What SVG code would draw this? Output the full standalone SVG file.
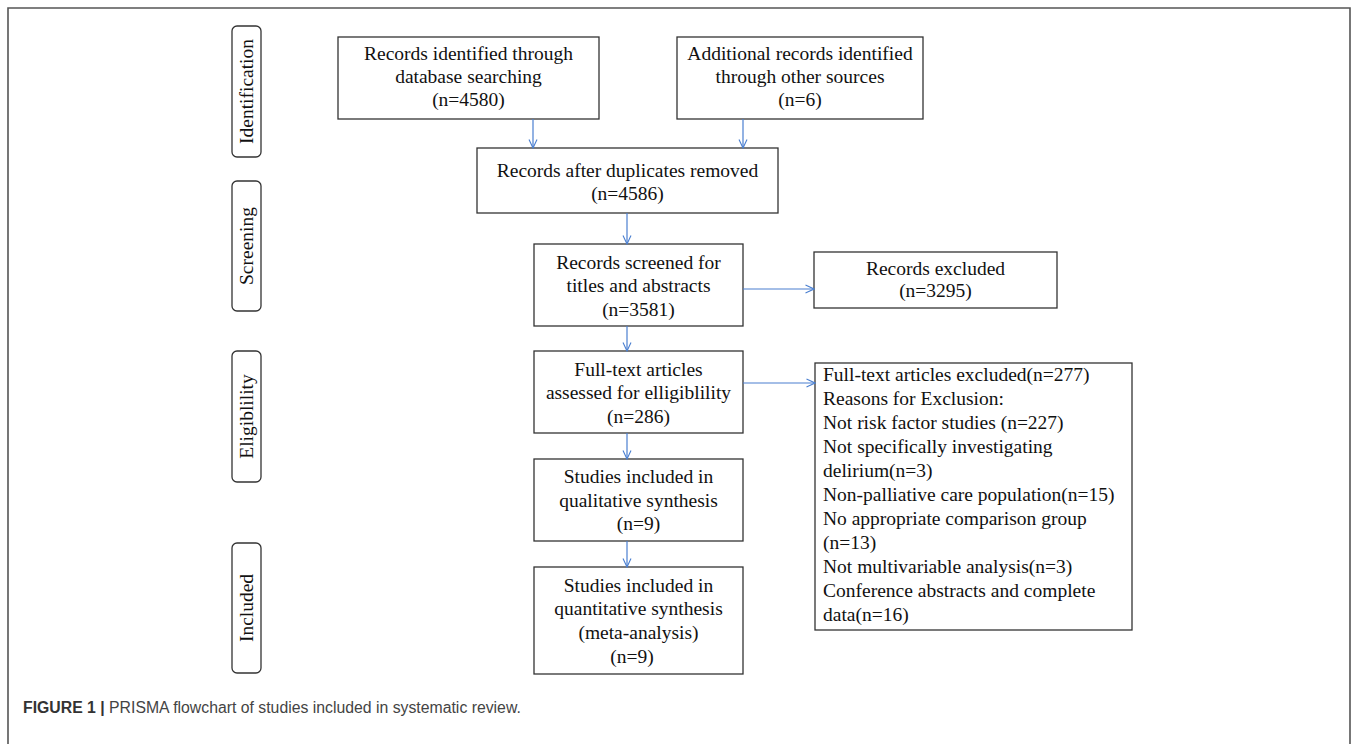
<svg xmlns="http://www.w3.org/2000/svg" width="1357" height="744" viewBox="0 0 1357 744">
<defs>
<style>
.frame{fill:none;stroke:#555;stroke-width:1.6}
.box{fill:#fff;stroke:#333;stroke-width:1.3}
.lbl{fill:#fff;stroke:#333;stroke-width:1.3}
.t{font-family:"Liberation Serif","Times New Roman",serif;font-size:19.5px;fill:#111}
.c{text-anchor:middle}
.conn line{stroke:#4a7fd0;stroke-width:1.2;fill:none}
.cap{font-family:"Liberation Sans",Arial,sans-serif;font-size:15.8px;fill:#444}
</style>
<marker id="ah" viewBox="0 0 10 10" refX="9.5" refY="5" markerWidth="10" markerHeight="10" markerUnits="userSpaceOnUse" orient="auto">
<path d="M1,1 L9.5,5 L1,9" fill="none" stroke="#4a7fd0" stroke-width="1.1"/>
</marker>
</defs>
<rect width="1357" height="744" fill="#fff"/>
<path class="frame" d="M8,744 L8,8 L1350,8 L1350,744"/>

<g id="lbl-identification">
<rect class="lbl" x="232" y="26" width="29" height="131" rx="5"/>
<text class="t c" transform="translate(253,91.5) rotate(-90)">Identification</text>
</g>
<g id="lbl-screening">
<rect class="lbl" x="232" y="181" width="29" height="130" rx="5"/>
<text class="t c" transform="translate(253,246) rotate(-90)">Screening</text>
</g>
<g id="lbl-eligibility">
<rect class="lbl" x="232" y="351" width="29" height="131" rx="5"/>
<text class="t c" transform="translate(253,416.5) rotate(-90)">Eligiblility</text>
</g>
<g id="lbl-included">
<rect class="lbl" x="232" y="543" width="29" height="130" rx="5"/>
<text class="t c" transform="translate(253,608) rotate(-90)">Included</text>
</g>

<g id="n-database">
<rect class="box" x="338" y="37" width="261" height="82"/>
<text class="t c" x="468.5" y="60">Records identified through</text>
<text class="t c" x="468.5" y="83">database searching</text>
<text class="t c" x="468.5" y="106">(n=4580)</text>
</g>
<g id="n-other">
<rect class="box" x="677" y="37" width="246" height="82"/>
<text class="t c" x="800" y="60">Additional records identified</text>
<text class="t c" x="800" y="83">through other sources</text>
<text class="t c" x="800" y="106">(n=6)</text>
</g>
<g id="n-dup">
<rect class="box" x="477" y="148" width="301" height="65"/>
<text class="t c" x="627.5" y="177">Records after duplicates removed</text>
<text class="t c" x="627.5" y="200">(n=4586)</text>
</g>
<g id="n-screened">
<rect class="box" x="534" y="244" width="209" height="82"/>
<text class="t c" x="638.5" y="269">Records screened for</text>
<text class="t c" x="638.5" y="292">titles and abstracts</text>
<text class="t c" x="638.5" y="316">(n=3581)</text>
</g>
<g id="n-excluded">
<rect class="box" x="814" y="252" width="243" height="56"/>
<text class="t c" x="935.5" y="275">Records excluded</text>
<text class="t c" x="935.5" y="297">(n=3295)</text>
</g>
<g id="n-fulltext">
<rect class="box" x="534" y="351" width="209" height="82"/>
<text class="t c" x="638.5" y="376">Full-text articles</text>
<text class="t c" x="638.5" y="399">assessed for elligiblility</text>
<text class="t c" x="638.5" y="423">(n=286)</text>
</g>
<g id="n-ftexcluded">
<rect class="box" x="815" y="363" width="317" height="267"/>
<text class="t" x="823" y="381">Full-text articles excluded(n=277)</text>
<text class="t" x="823" y="405">Reasons for Exclusion:</text>
<text class="t" x="823" y="429">Not risk factor studies (n=227)</text>
<text class="t" x="823" y="453">Not specifically investigating</text>
<text class="t" x="823" y="477">delirium(n=3)</text>
<text class="t" x="823" y="501">Non-palliative care population(n=15)</text>
<text class="t" x="823" y="525">No appropriate comparison group</text>
<text class="t" x="823" y="549">(n=13)</text>
<text class="t" x="823" y="573">Not multivariable analysis(n=3)</text>
<text class="t" x="823" y="597">Conference abstracts and complete</text>
<text class="t" x="823" y="621">data(n=16)</text>
</g>
<g id="n-qual">
<rect class="box" x="534" y="459" width="209" height="82"/>
<text class="t c" x="638.5" y="483">Studies included in</text>
<text class="t c" x="638.5" y="507">qualitative synthesis</text>
<text class="t c" x="638.5" y="530">(n=9)</text>
</g>
<g id="n-quant">
<rect class="box" x="534" y="567" width="209" height="107"/>
<text class="t c" x="638.5" y="592">Studies included in</text>
<text class="t c" x="638.5" y="615">quantitative synthesis</text>
<text class="t c" x="638.5" y="639">(meta-analysis)</text>
<text class="t c" x="632" y="663">(n=9)</text>
</g>

<g id="connectors" class="conn">
<line x1="533" y1="119" x2="533" y2="148" marker-end="url(#ah)"/>
<line x1="743" y1="119" x2="743" y2="148" marker-end="url(#ah)"/>
<line x1="627" y1="213" x2="627" y2="244" marker-end="url(#ah)"/>
<line x1="743" y1="289" x2="814" y2="289" marker-end="url(#ah)"/>
<line x1="627" y1="326" x2="627" y2="351" marker-end="url(#ah)"/>
<line x1="743" y1="383" x2="815" y2="383" marker-end="url(#ah)"/>
<line x1="627" y1="433" x2="627" y2="459" marker-end="url(#ah)"/>
<line x1="627" y1="541" x2="627" y2="567" marker-end="url(#ah)"/>
</g>

<g id="caption">
<text class="cap" x="23" y="713"><tspan font-weight="bold" fill="#333">FIGURE 1 | </tspan>PRISMA flowchart of studies included in systematic review.</text>
</g>
</svg>
